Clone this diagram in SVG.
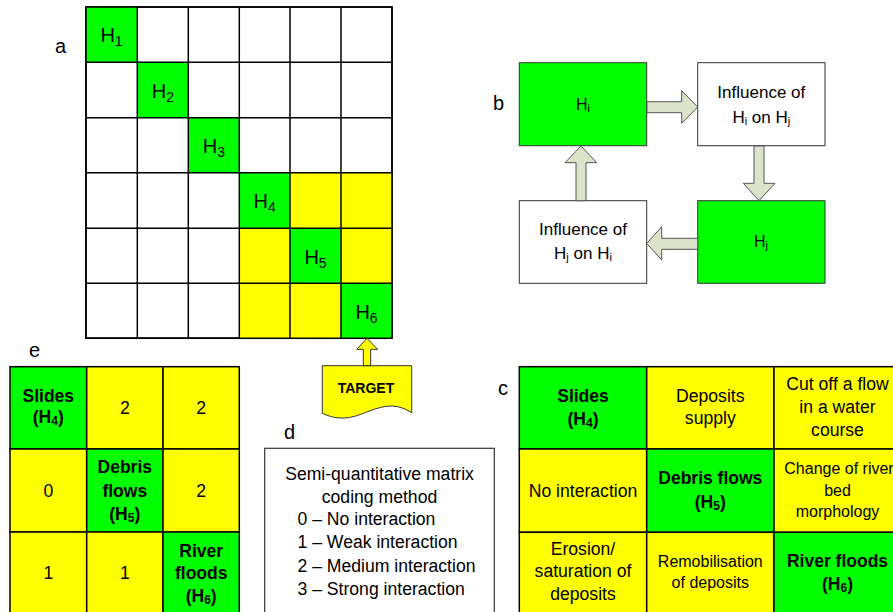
<svg xmlns="http://www.w3.org/2000/svg" width="893" height="612" viewBox="0 0 893 612">
<style>
text{font-family:"Liberation Sans",Arial,sans-serif;fill:#000}
.lbl{font-size:20px}
.g{fill:#00ff00}
.y{fill:#ffff00}
.w{fill:#ffffff}
.cell{stroke:#000;stroke-width:1.5}
.bx{stroke:#333;stroke-width:1}
.mh{font-size:20px;text-anchor:middle}
.bt{font-size:17px;text-anchor:middle}
.t16{font-size:17.6px;text-anchor:middle}
.t15{font-size:16px;text-anchor:middle}
.b16{font-size:17.5px;font-weight:bold;text-anchor:middle}
.arr{fill:#dce3cb;stroke:#555;stroke-width:1}
</style>

<!-- Panel labels -->
<text class="lbl" x="55" y="53">a</text>
<text class="lbl" x="493" y="110">b</text>
<text class="lbl" x="498" y="395">c</text>
<text class="lbl" x="284" y="439">d</text>
<text class="lbl" x="29" y="357">e</text>

<!-- Panel a: matrix -->
<g id="matrix-a">
  <rect class="w cell" x="86" y="7" width="306" height="331"/>
  <rect class="y" x="239.3" y="172.7" width="152.7" height="165.6"/>
  <rect class="g" x="86" y="7" width="51.3" height="55.3"/>
  <rect class="g" x="137.3" y="62.3" width="51" height="55.4"/>
  <rect class="g" x="188.3" y="117.7" width="51" height="55"/>
  <rect class="g" x="239.3" y="172.7" width="50.7" height="55.6"/>
  <rect class="g" x="290" y="228.3" width="51" height="55"/>
  <rect class="g" x="341" y="283.3" width="51" height="55"/>
  <g stroke="#000" stroke-width="1.5" fill="none">
    <rect x="86" y="7" width="306" height="331.3"/>
    <path d="M137.3,7V338.3M188.3,7V338.3M239.3,7V338.3M290,7V338.3M341,7V338.3"/>
    <path d="M86,62.3H392M86,117.7H392M86,172.7H392M86,228.3H392M86,283.3H392"/>
  </g>
  <text class="mh" x="111.5" y="42">H<tspan font-size="14" dy="4">1</tspan></text>
  <text class="mh" x="162.8" y="97.5">H<tspan font-size="14" dy="4">2</tspan></text>
  <text class="mh" x="213.8" y="152.5">H<tspan font-size="14" dy="4">3</tspan></text>
  <text class="mh" x="264.7" y="208.3">H<tspan font-size="14" dy="4">4</tspan></text>
  <text class="mh" x="315.5" y="263.5">H<tspan font-size="14" dy="4">5</tspan></text>
  <text class="mh" x="366.5" y="318.5">H<tspan font-size="14" dy="4">6</tspan></text>
</g>

<!-- Target -->
<g id="target">
  <path d="M322.3,365.7H411.7V412.7C398,404 388,405 375,409C360,414 345,424 322.3,413.3Z" fill="#ffff00" stroke="#333" stroke-width="1"/>
  <text x="366" y="393" font-size="14" font-weight="bold" text-anchor="middle">TARGET</text>
</g>

<!-- Panel b nodes -->
<g id="b-hi">
  <rect class="g bx" x="519.3" y="62.7" width="127.4" height="83"/>
  <text x="583" y="110" font-size="16" text-anchor="middle">H<tspan font-size="11" dy="2">i</tspan></text>
</g>
<g id="b-hi-on-hj">
  <rect class="w bx" x="697.7" y="62.7" width="127.3" height="83"/>
  <text class="bt" x="761.3" y="98">Influence of</text>
  <text class="bt" x="761.3" y="123">H<tspan font-size="11" dy="2">i</tspan><tspan dy="-2"> on H</tspan><tspan font-size="11" dy="2">j</tspan></text>
</g>
<g id="b-hj">
  <rect class="g bx" x="697.7" y="200.7" width="127.3" height="82.6"/>
  <text x="761" y="247" font-size="16" text-anchor="middle">H<tspan font-size="11" dy="2">j</tspan></text>
</g>
<g id="b-hj-on-hi">
  <rect class="w bx" x="519.3" y="200.7" width="127.4" height="82.6"/>
  <text class="bt" x="583" y="235">Influence of</text>
  <text class="bt" x="583" y="259">H<tspan font-size="11" dy="2">j</tspan><tspan dy="-2"> on H</tspan><tspan font-size="11" dy="2">i</tspan></text>
</g>

<!-- Connectors -->
<g id="connectors">
  <polygon class="arr" points="647,101.7 681.7,101.7 681.7,90.7 697.7,107 681.7,123.3 681.7,112.7 647,112.7"/>
  <polygon class="arr" points="754,146 754,183.3 743.3,183.3 759,200.7 775,183.3 764,183.3 764,146"/>
  <polygon class="arr" points="697.7,238.3 661.7,238.3 661.7,226.7 646.7,243.5 661.7,260 661.7,249.3 697.7,249.3"/>
  <polygon class="arr" points="576,200.7 576,162.7 565,162.7 581,146 596.7,162.7 586,162.7 586,200.7"/>
  <polygon points="363.3,365.7 363.3,349.3 356.7,349.3 367,338.3 377.7,349.3 370.7,349.3 370.7,365.7" fill="#ffff00" stroke="#333" stroke-width="1"/>
</g>

<!-- Panel d -->
<g id="legend-d">
  <rect x="264.7" y="448.3" width="229.6" height="180" fill="#fff" stroke="#333" stroke-width="1.2"/>
  <text class="t16" x="379.5" y="480">Semi-quantitative matrix</text>
  <text class="t16" x="379.5" y="502.7">coding method</text>
  <text x="297.5" y="525" font-size="17.6">0 – No interaction</text>
  <text x="297.5" y="548.3" font-size="17.6">1 – Weak interaction</text>
  <text x="297.5" y="571.7" font-size="17.6">2 – Medium interaction</text>
  <text x="297.5" y="595" font-size="17.6">3 – Strong interaction</text>
</g>

<!-- Panel e -->
<g id="matrix-e">
  <rect class="g cell" x="10" y="366.7" width="76.7" height="82.3"/>
  <rect class="y cell" x="86.7" y="366.7" width="76.3" height="82.3"/>
  <rect class="y cell" x="163" y="366.7" width="76.3" height="82.3"/>
  <rect class="y cell" x="10" y="449" width="76.7" height="83"/>
  <rect class="g cell" x="86.7" y="449" width="76.3" height="83"/>
  <rect class="y cell" x="163" y="449" width="76.3" height="83"/>
  <rect class="y cell" x="10" y="532" width="76.7" height="90"/>
  <rect class="y cell" x="86.7" y="532" width="76.3" height="90"/>
  <rect class="g cell" x="163" y="532" width="76.3" height="90"/>
  <text class="b16" x="48.3" y="401.7">Slides</text>
  <text class="b16" x="48.3" y="423.3">(H<tspan font-size="12" dy="2">4</tspan><tspan dy="-2">)</tspan></text>
  <text class="t16" x="124.8" y="414">2</text>
  <text class="t16" x="201.2" y="414">2</text>
  <text class="t16" x="48.3" y="497.3">0</text>
  <text class="b16" x="124.8" y="472.7">Debris</text>
  <text class="b16" x="124.8" y="496.7">flows</text>
  <text class="b16" x="124.8" y="520">(H<tspan font-size="12" dy="2">5</tspan><tspan dy="-2">)</tspan></text>
  <text class="t16" x="201.2" y="497.3">2</text>
  <text class="t16" x="48.3" y="579.3">1</text>
  <text class="t16" x="124.8" y="579.3">1</text>
  <text class="b16" x="201.2" y="557.3">River</text>
  <text class="b16" x="201.2" y="579.3">floods</text>
  <text class="b16" x="201.2" y="601.7">(H<tspan font-size="12" dy="2">6</tspan><tspan dy="-2">)</tspan></text>
</g>

<!-- Panel c -->
<g id="matrix-c">
  <rect class="g cell" x="519.3" y="366.7" width="127.4" height="82.3"/>
  <rect class="y cell" x="646.7" y="366.7" width="127.3" height="82.3"/>
  <rect class="y cell" x="774" y="366.7" width="127" height="82.3"/>
  <rect class="y cell" x="519.3" y="449" width="127.4" height="83.3"/>
  <rect class="g cell" x="646.7" y="449" width="127.3" height="83.3"/>
  <rect class="y cell" x="774" y="449" width="127" height="83.3"/>
  <rect class="y cell" x="519.3" y="532.3" width="127.4" height="90"/>
  <rect class="y cell" x="646.7" y="532.3" width="127.3" height="90"/>
  <rect class="g cell" x="774" y="532.3" width="127" height="90"/>
  <text class="b16" x="583" y="401.7">Slides</text>
  <text class="b16" x="583" y="425">(H<tspan font-size="12" dy="2">4</tspan><tspan dy="-2">)</tspan></text>
  <text class="t16" x="710.3" y="401.7">Deposits</text>
  <text class="t16" x="710.3" y="424">supply</text>
  <text class="t16" x="837.5" y="390">Cut off a flow</text>
  <text class="t16" x="837.5" y="413.3">in a water</text>
  <text class="t16" x="837.5" y="436">course</text>
  <text class="t16" x="583" y="496.7">No interaction</text>
  <text class="b16" x="710.3" y="484">Debris flows</text>
  <text class="b16" x="710.3" y="508.3">(H<tspan font-size="12" dy="2">5</tspan><tspan dy="-2">)</tspan></text>
  <text class="t15" x="839" y="474.3">Change of river</text>
  <text class="t15" x="837.5" y="496">bed</text>
  <text class="t15" x="837.5" y="516.5">morphology</text>
  <text class="t16" x="583" y="555">Erosion/</text>
  <text class="t16" x="583" y="577">saturation of</text>
  <text class="t16" x="583" y="600">deposits</text>
  <text class="t15" x="710.3" y="566.7">Remobilisation</text>
  <text class="t15" x="710.3" y="588.3">of deposits</text>
  <text class="b16" x="837.5" y="566.7">River floods</text>
  <text class="b16" x="837.5" y="590">(H<tspan font-size="12" dy="2">6</tspan><tspan dy="-2">)</tspan></text>
</g>
</svg>
